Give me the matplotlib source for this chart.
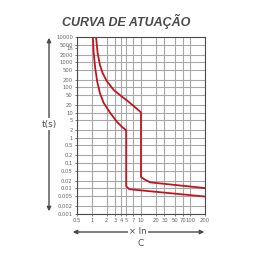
import matplotlib
matplotlib.use("Agg")
import matplotlib.pyplot as plt

# Data
x_ticks = [0.5, 1, 2, 3, 4, 5, 7, 10, 20, 30, 50, 70, 100, 200]
x_labels = ["0.5", "1", "2", "3", "4", "5", "7", "10", "20", "30", "50", "70", "100", "200"]
y_ticks = [0.001, 0.002, 0.005, 0.01, 0.02, 0.05, 0.1, 0.2, 0.5, 1, 2, 5, 10, 20, 50,
           100, 200, 500, 1000, 2000, 5000, 10000]
y_labels = ["0.001", "0.002", "0.005", "0.01", "0.02", "0.05", "0.1", "0.2", "0.5", "1", "2",
            "5", "10", "20", "50", "100", "200", "500", "1000", "2000", "5000", "10000"]
hour_tick = 3600
hour_label = "1h"

lower_x = [1.05, 1.09, 1.17, 1.29, 1.46, 1.74, 2.36, 3.26, 4.12, 4.94, 5.0, 5.0,
           5.8, 15.6, 200]
lower_y = [10000, 2400, 604, 167, 60, 24.5, 9.8, 4.3, 2.7, 2.06, 1.9, 0.012,
           0.0092, 0.0076, 0.0047]
upper_x = [1.22, 1.31, 1.46, 1.65, 2.0, 2.77, 3.92, 5.35, 7.44, 10.0, 10.0,
           12.2, 15.6, 200]
upper_y = [10000, 2384, 790, 381, 183, 80, 46, 29, 16.9, 10.2, 0.028,
           0.0216, 0.0171, 0.0102]

red = "#c0161f"
grid_c = "#a8a8a8"
dark = "#4a4a4a"

fig = plt.figure(figsize=(2.56, 2.56), dpi=100)
ax = fig.add_axes([77/256, 42.5/256, 128/256, 176.5/256])
ax.set_xscale("log")
ax.set_yscale("log")
ax.set_xlim(0.5, 200)
ax.set_ylim(0.001, 10000)

ax.set_xticks(x_ticks)
ax.set_xticklabels(x_labels)
ax.set_xticks([], minor=True)
ax.set_yticks(y_ticks)
ax.set_yticklabels(y_labels)
ax.set_yticks([hour_tick], minor=True)
ax.set_yticklabels([hour_label], minor=True)

ax.grid(True, which="major", color=grid_c, linewidth=0.8)
ax.tick_params(which="both", labelsize=3.8, labelcolor="#666666", length=1.5, width=0.5,
               color=dark, pad=1.5)
for s in ax.spines.values():
    s.set_color(dark)
    s.set_linewidth(0.8)

ax.plot(lower_x, lower_y, color=red, linewidth=1.3, solid_joinstyle="round")
ax.plot(upper_x, upper_y, color=red, linewidth=1.3, solid_joinstyle="round")

# Title
fig.text(126/256, 1 - 21/256, "CURVA DE ATUAÇÃO", ha="center", va="center",
         fontsize=9, fontweight="bold", fontstyle="italic", color=dark,
         family=["Liberation Sans", "DejaVu Sans"])

# Left arrow
fig.patches.append(matplotlib.patches.FancyArrowPatch(
    (49/256, 1 - 35/256), (49/256, 1 - 214/256), transform=fig.transFigure,
    arrowstyle="<|-|>", mutation_scale=6, color=dark, linewidth=1.0))
fig.text(49/256, 1 - 124/256, "t(s)", ha="center", va="center", fontsize=6.5,
         color=dark, bbox=dict(facecolor="white", edgecolor="none", pad=1))

# Bottom arrow
fig.patches.append(matplotlib.patches.FancyArrowPatch(
    (70/256, 1 - 232/256), (207/256, 1 - 232/256), transform=fig.transFigure,
    arrowstyle="<|-|>", mutation_scale=6, color=dark, linewidth=1.0))
fig.text(138/256, 1 - 232/256, "× In", ha="center", va="center", fontsize=6,
         color=dark, bbox=dict(facecolor="white", edgecolor="none", pad=1))
fig.text(141/256, 1 - 243/256, "C", ha="center", va="center", fontsize=6.5, color=dark)

fig.savefig("out.png", dpi=100)
